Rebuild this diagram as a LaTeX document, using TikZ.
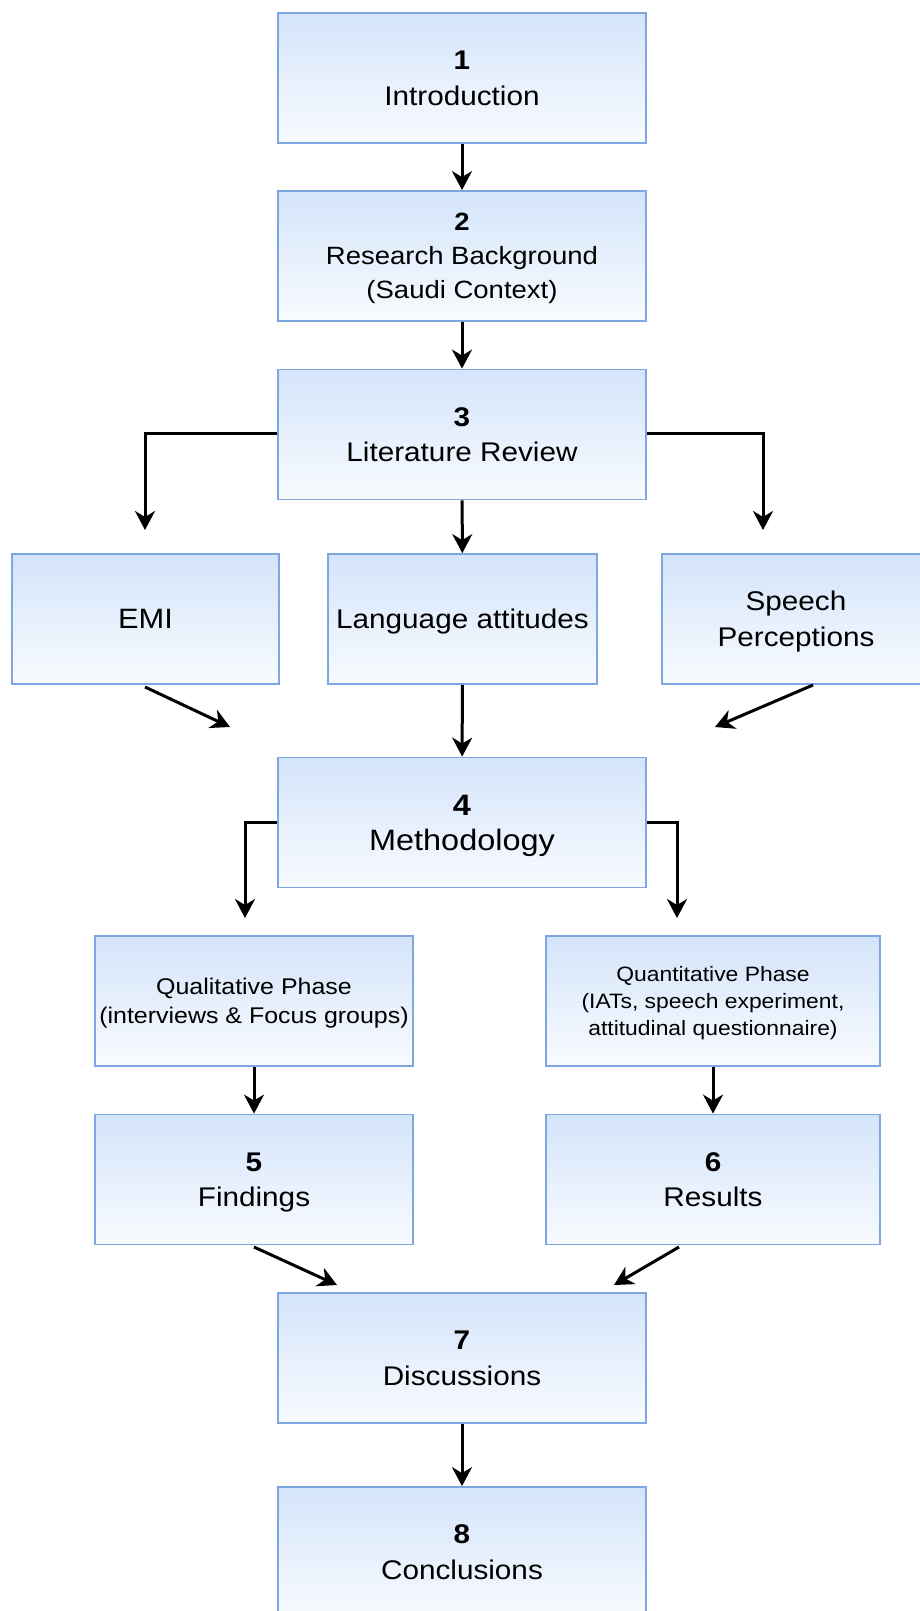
\documentclass[tikz,border=0pt]{standalone}
\usepackage{fontspec}
\setmainfont{Liberation Sans}[FakeStretch=1.1]
\usetikzlibrary{arrows.meta}
\definecolor{bd}{HTML}{7EA6E0}
\definecolor{tp}{HTML}{D4E4FA}
\definecolor{bt}{HTML}{F8FBFF}
\newcommand{\fs}[2]{\fontsize{#1}{#2}\selectfont}
\tikzset{
 box/.style={draw=bd, line width=1.8pt, top color=tp, bottom color=bt,
   minimum width=368pt, minimum height=130pt, align=center, inner sep=0pt,
   text depth=0pt, font=\fs{27}{36}},
 sidebox/.style={box, minimum width=267pt},
 phasebox/.style={box, minimum width=318pt},
 arr/.style={line width=3pt, -{Stealth[length=19pt,width=20pt,inset=6pt]}},
}
\begin{document}
\begin{tikzpicture}[x=1pt,y=-1pt]
\useasboundingbox (0,0) rectangle (920,1611);
\clip (0,0) rectangle (920,1611);
% main boxes
\node[box] (b1) at (462,78) {\textbf{1}\\Introduction};
\node[box, font=\fs{25}{34}] (b2) at (462,256) {\textbf{2}\\Research Background\\(Saudi Context)};
\node[box, font=\fs{27}{35}] (b3) at (462,434.5) {\textbf{3}\\Literature Review};
\node[sidebox, font=\fs{28}{36}] (emi) at (145.5,619) {EMI};
\node[sidebox, minimum width=269pt] (lang) at (462.5,619) {Language attitudes};
\node[sidebox, minimum width=268pt] (sp) at (796,619) {Speech\\Perceptions};
\node[box, font=\fs{29.5}{35}] (b4) at (462,822.5) {\textbf{4}\\Methodology};
\node[phasebox, font=\fs{22.7}{29}] (qual) at (254,1001) {Qualitative Phase\\(interviews \& Focus groups)};
\node[phasebox, minimum width=334pt, font=\fs{20.8}{27}] (quant) at (713,1001) {Quantitative Phase\\(IATs, speech experiment,\\attitudinal questionnaire)};
\node[phasebox, font=\fs{27}{35}] (find) at (254,1179.5) {\textbf{5}\\Findings};
\node[phasebox, minimum width=334pt, font=\fs{27}{35}] (res) at (713,1179.5) {\textbf{6}\\Results};
\node[box] (b7) at (462,1358) {\textbf{7}\\Discussions};
\node[box] (b8) at (462,1552) {\textbf{8}\\Conclusions};
% free ends
\coordinate (lt) at (145,530);
\coordinate (rt) at (763,530);
\coordinate (emiS) at (145,687);
\coordinate (emiE) at (230,727);
\coordinate (spS) at (813,685);
\coordinate (spE) at (715,727);
\coordinate (mlt) at (245,918);
\coordinate (mrt) at (677,918);
\coordinate (fS) at (254,1247);
\coordinate (fE) at (337,1285);
\coordinate (rS) at (679,1247);
\coordinate (rE) at (614,1285);
% connectors
\draw[arr] (b1) -- (b2);
\draw[arr] (b2) -- (b3);
\draw[arr] (b3.west |- 0,433) -| (lt);
\draw[arr] (b3.east |- 0,433) -| (rt);
\draw[arr] (b3) -- (lang);
\draw[arr] (emiS) -- (emiE);
\draw[arr] (spS) -- (spE);
\draw[arr] (lang) -- (b4);
\draw[arr] (b4.west |- 0,822) -| (mlt);
\draw[arr] (b4.east |- 0,822) -| (mrt);
\draw[arr] (qual) -- (find);
\draw[arr] (quant) -- (res);
\draw[arr] (fS) -- (fE);
\draw[arr] (rS) -- (rE);
\draw[arr] (b7) -- (b8);
\end{tikzpicture}
\end{document}
